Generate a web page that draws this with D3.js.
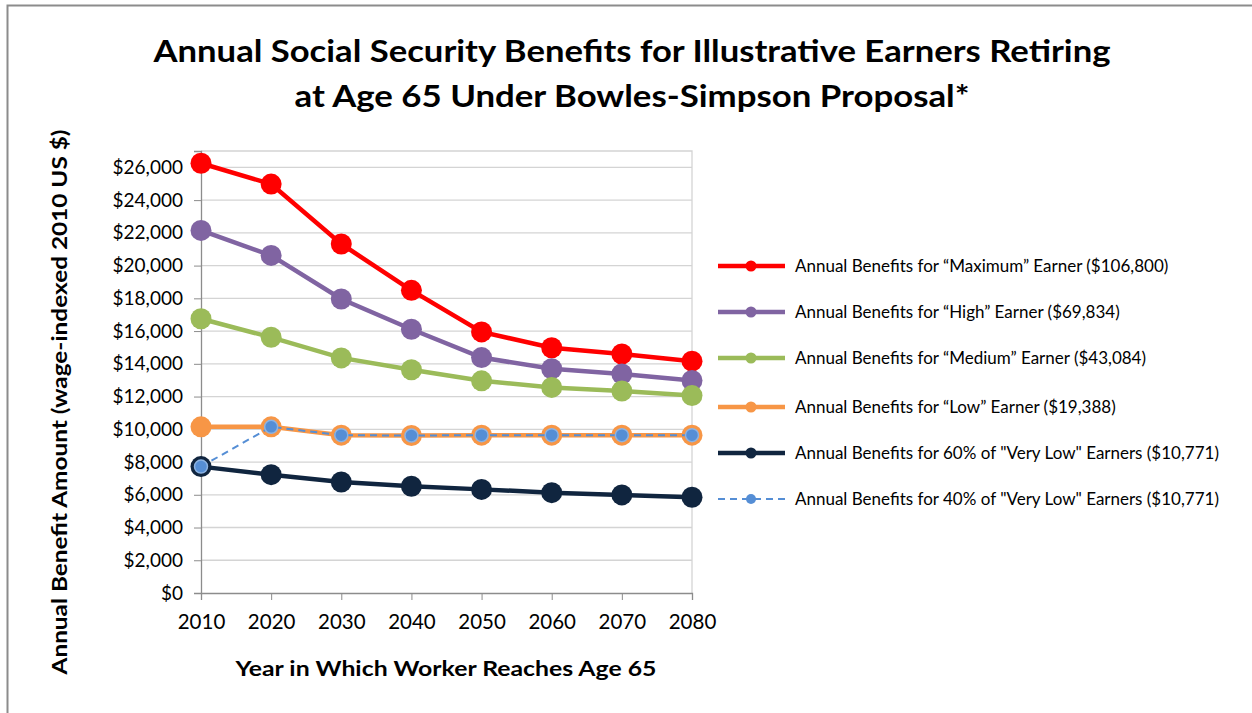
<!DOCTYPE html>
<html><head><meta charset="utf-8">
<script src="https://cdn.jsdelivr.net/npm/d3@7"></script>
<style>
html,body{margin:0;padding:0;background:#fff;}
svg{display:block;font-family:Lato, "Liberation Sans", sans-serif;}
</style></head>
<body>
<svg id="chart" width="1252" height="713"></svg>
<script>
const years = [2010, 2020, 2030, 2040, 2050, 2060, 2070, 2080];
const maximumEarner = [26250, 24980, 21320, 18490, 15950, 14980, 14600, 14160];
const highEarner = [22150, 20620, 17960, 16110, 14380, 13700, 13380, 12980];
const mediumEarner = [16750, 15620, 14360, 13640, 12960, 12560, 12340, 12060];
const lowEarner = [10150, 10150, 9640, 9620, 9640, 9640, 9640, 9640];
const veryLow60 = [7720, 7230, 6780, 6520, 6330, 6130, 5990, 5850];
const veryLow40 = [7720, 10150, 9640, 9620, 9640, 9640, 9640, 9640];
const yTicks = [0, 2000, 4000, 6000, 8000, 10000, 12000, 14000, 16000, 18000, 20000, 22000, 24000, 26000];
const seriesNames = [
  "Annual Benefits for \u201cMaximum\u201d  Earner ($106,800)",
  "Annual Benefits for \u201cHigh\u201d  Earner ($69,834)",
  "Annual Benefits for \u201cMedium\u201d  Earner ($43,084)",
  "Annual Benefits for \u201cLow\u201d  Earner ($19,388)",
  "Annual Benefits for 60% of \"Very Low\" Earners ($10,771)",
  "Annual Benefits for 40% of \"Very Low\" Earners ($10,771)"
];
const titleLines = ["Annual Social Security Benefits for Illustrative Earners Retiring", "at Age 65 Under Bowles-Simpson Proposal*"];

const series = [
  {name: seriesNames[0], values: maximumEarner, color: "#ff0000"},
  {name: seriesNames[1], values: highEarner, color: "#8064a2"},
  {name: seriesNames[2], values: mediumEarner, color: "#9bbb59"},
  {name: seriesNames[3], values: lowEarner, color: "#f79646"},
  {name: seriesNames[4], values: veryLow60, color: "#10253f"},
  {name: seriesNames[5], values: veryLow40, color: "#558ed5", dashed: true}
];

const svg = d3.select("#chart");
// outer frame
svg.append("rect").attr("x", 7.5).attr("y", 5.5).attr("width", 1300).attr("height", 800)
  .attr("fill", "none").attr("stroke", "#8c8c8c").attr("stroke-width", 2);

const L = 201, R = 692, T = 151, B = 593;
const x = d3.scaleLinear().domain([2010, 2080]).range([L, R]);
const y = d3.scaleLinear().domain([0, 27000]).range([B, T]);

// gridlines
svg.append("g").selectAll("line").data(yTicks.filter(d => d > 0)).join("line")
  .attr("x1", L).attr("x2", R).attr("y1", d => y(d)).attr("y2", d => y(d))
  .attr("stroke", "#d4d4d4").attr("stroke-width", 1.3);
// plot border top/right
svg.append("path").attr("d", `M${L},${T}H${R}V${B}`).attr("fill", "none")
  .attr("stroke", "#d4d4d4").attr("stroke-width", 1.3);

// axes
const yAxis = d3.axisLeft(y).tickValues(yTicks).tickSize(7).tickFormat(d => "$" + d3.format(",")(d));
const gy = svg.append("g").attr("transform", `translate(${L},0)`).call(yAxis);
gy.select(".domain").attr("stroke", "#8c8c8c").attr("stroke-width", 1.3);
gy.selectAll(".tick line").attr("stroke", "#8c8c8c");
gy.selectAll(".tick text").attr("font-size", 19).attr("fill", "#000").attr("font-family", "Lato").attr("x", -18);

const xAxis = d3.axisBottom(x).tickValues(years).tickSize(7).tickFormat(d3.format("d"));
const gx = svg.append("g").attr("transform", `translate(0,${B})`).call(xAxis);
gx.select(".domain").attr("stroke", "#8c8c8c").attr("stroke-width", 1.3);
gx.selectAll(".tick line").attr("stroke", "#8c8c8c");
gx.selectAll(".tick text").attr("font-size", 20.5).attr("fill", "#000").attr("font-family", "Lato").attr("y", 21);

// lines
const line = d3.line().x((d, i) => x(years[i])).y(d => y(d));
series.forEach(s => {
  svg.append("path").datum(s.values).attr("d", line).attr("fill", "none")
    .attr("stroke", s.color).attr("stroke-width", s.dashed ? 2 : 4.5)
    .attr("stroke-dasharray", s.dashed ? "7,5" : null);
  if (s.dashed) {
    svg.append("g").selectAll("circle").data(s.values).join("circle")
      .attr("cx", (d, i) => x(years[i])).attr("cy", d => y(d)).attr("r", 6.5)
      .attr("fill", s.color).attr("stroke", "#8db3e2").attr("stroke-width", 1.5);
  } else {
    svg.append("g").selectAll("circle").data(s.values).join("circle")
      .attr("cx", (d, i) => x(years[i])).attr("cy", d => y(d)).attr("r", 10.5)
      .attr("fill", s.color);
  }
});

// title
const titleWidths = [957, 675];
svg.append("g").selectAll("text").data(titleLines).join("text")
  .attr("x", 632).attr("y", (d, i) => 62 + i * 45).attr("text-anchor", "middle")
  .attr("font-size", 31).attr("font-weight", "bold").attr("fill", "#000")
  .attr("textLength", (d, i) => titleWidths[i]).attr("lengthAdjust", "spacingAndGlyphs").text(d => d);

// axis titles
svg.append("text").attr("x", 446).attr("y", 676).attr("text-anchor", "middle")
  .attr("font-size", 21).attr("font-weight", "bold")
  .attr("textLength", 421).attr("lengthAdjust", "spacingAndGlyphs").text("Year in Which Worker Reaches Age 65");
svg.append("text").attr("transform", "translate(67,402) rotate(-90)").attr("text-anchor", "middle")
  .attr("font-size", 21).attr("font-weight", "bold")
  .attr("textLength", 545).attr("lengthAdjust", "spacingAndGlyphs").text("Annual Benefit Amount (wage-indexed 2010 US $)");

// legend
const legY = [266, 312, 358, 407, 453, 499];
const leg = svg.append("g").selectAll("g").data(series).join("g")
  .attr("transform", (d, i) => `translate(0,${legY[i]})`);
leg.append("line").attr("x1", 718).attr("x2", 785).attr("y1", 0).attr("y2", 0)
  .attr("stroke", d => d.color).attr("stroke-width", d => d.dashed ? 2 : 4.5)
  .attr("stroke-dasharray", d => d.dashed ? "7,5" : null);
leg.append("circle").attr("cx", 751).attr("cy", 0).attr("r", d => d.dashed ? 5 : 5.5)
  .attr("fill", d => d.color);
leg.append("text").attr("x", 795).attr("y", 6).attr("font-size", 17).attr("fill", "#000")
  .text(d => d.name);
</script>
</body></html>
